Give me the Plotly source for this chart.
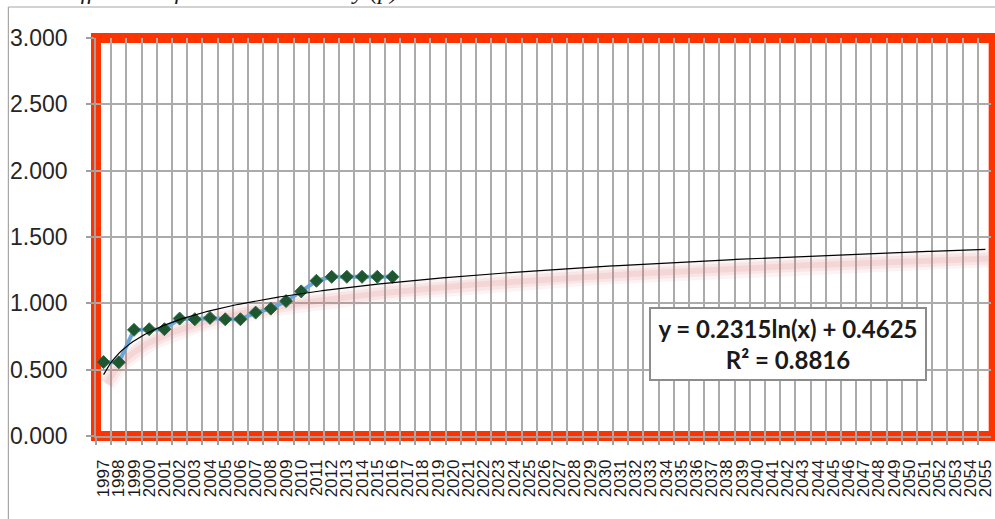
import numpy as np
import plotly.graph_objects as go

# ---- data ----
years = [str(y) for y in range(1997, 2056)]
obs_years = [str(y) for y in range(1997, 2017)]
obs_values = [0.557, 0.555, 0.800, 0.805, 0.805, 0.885, 0.880, 0.890, 0.880, 0.880,
              0.930, 0.960, 1.017, 1.090, 1.170, 1.200, 1.200, 1.200, 1.200, 1.200]
trend_a = 0.2315   # coefficient shown in the chart
trend_b = 0.4625
r2_text = "R² = 0.8816"
eq_text = "y = 0.2315ln(x) + 0.4625"
y_ticks = [0, 0.5, 1.0, 1.5, 2.0, 2.5, 3.0]
title_text = "Coefficients of Financial stability (p)"

# ---- geometry ----
W, H = 995, 519
ML, MT, MB, MR = 96, 38, 83, 0
PW = W - ML - MR
PH = H - MT - MB

x_pos = {y: i + 1 for i, y in enumerate(years)}
obs_x = [x_pos[y] for y in obs_years]

tx = np.linspace(1, len(years), 400)
ty = trend_a * np.log(tx) + trend_b

fig = go.Figure()

# soft pink shadow of the trendline
shadow_dy = -9 / (PH / 3.0)
for w, op in [(18, 0.08), (12, 0.11), (6, 0.14)]:
    fig.add_trace(go.Scatter(x=tx + 0.2, y=ty + shadow_dy, mode="lines",
                             line=dict(color=f"rgba(220,120,120,{op})", width=w),
                             hoverinfo="skip", showlegend=False))

fig.add_trace(go.Scatter(x=obs_x, y=obs_values, mode="lines+markers",
                         line=dict(color="#6AA6DA", width=4),
                         marker=dict(symbol="diamond", size=10, color="#1E5631",
                                     line=dict(color="#2F6B45", width=1)),
                         showlegend=False))

fig.add_trace(go.Scatter(x=tx, y=ty, mode="lines",
                         line=dict(color="black", width=1.2),
                         hoverinfo="skip", showlegend=False))

px_per_unit = 901 / 59.0
x_lo = 0.5
x_hi = 0.5 + PW / px_per_unit

fig.update_layout(
    width=W, height=H,
    margin=dict(l=ML, r=MR, t=MT, b=MB, pad=0),
    paper_bgcolor="white", plot_bgcolor="white",
    showlegend=False,
    xaxis=dict(
        range=[x_lo, x_hi],
        tickmode="array",
        tickvals=list(range(1, len(years) + 1)),
        ticktext=years,
        tickangle=-90,
        ticks="",
        showgrid=False,
        zeroline=False,
        showline=True, linecolor="#A0A0A0", linewidth=1.5,
        tickfont=dict(family="Liberation Sans", size=17, color="#1a1a1a"),
        ticklabelstandoff=15,
        ticklabeloverflow="allow",
        minor=dict(tickmode="array",
                   tickvals=[i + 0.5 for i in range(0, len(years) + 1)],
                   showgrid=True, gridcolor="#ABABAB", gridwidth=1.5,
                   ticks="outside", ticklen=7, tickcolor="#A0A0A0", tickwidth=1.5),
    ),
    yaxis=dict(
        range=[0, 3],
        tickmode="array",
        tickvals=y_ticks,
        tickformat=".3f",
        showgrid=True, gridcolor="#ABABAB", gridwidth=1.5,
        zeroline=False,
        showline=True, linecolor="#A0A0A0", linewidth=1.5,
        ticks="outside", ticklen=8, tickcolor="#A0A0A0", tickwidth=1.5,
        tickfont=dict(family="Liberation Sans", size=23, color="#262626"),
        ticklabelstandoff=14,
    ),
)

# red plot-area border
fig.add_shape(type="rect", xref="paper", yref="paper",
              x0=0, x1=1.003, y0=0, y1=1,
              line=dict(color="#FF3300", width=10), layer="between")

# outer chart frame (left and top edges)
fx = (8 - ML) / PW
fy = (H - MB - 7) / PH
fig.add_shape(type="line", xref="paper", yref="paper", x0=fx, x1=1.2, y0=fy, y1=fy,
              line=dict(color="#A6A6A6", width=1.2))
fig.add_shape(type="line", xref="paper", yref="paper", x0=fx, x1=fx, y0=fy, y1=-0.5,
              line=dict(color="#A6A6A6", width=1.2))

# equation box
bx = (791 - ML) / PW
by = (H - MB - 344) / PH
fig.add_annotation(xref="paper", yref="paper", x=bx, y=by,
                   xanchor="center", yanchor="middle",
                   text=f"<b>{eq_text}</b><br><b>{r2_text}</b>",
                   showarrow=False, align="center",
                   width=272, height=68,
                   font=dict(family="Lato", size=24, color="#1a1a1a"),
                   bgcolor="white", bordercolor="#8C8C8C", borderwidth=2, borderpad=1)

# clipped title at the very top
ty_title = (H - MB + 9) / PH
fig.add_annotation(xref="paper", yref="paper", x=(40 - ML) / PW, y=ty_title,
                   xanchor="left", yanchor="middle",
                   text=f"<i>{title_text}</i>", showarrow=False,
                   font=dict(family="Liberation Serif", size=24, color="#1a1a1a"))

fig.write_html("out.html", config={"displayModeBar": False},
               post_script="document.body.style.margin='0';document.body.style.overflow='hidden';")
